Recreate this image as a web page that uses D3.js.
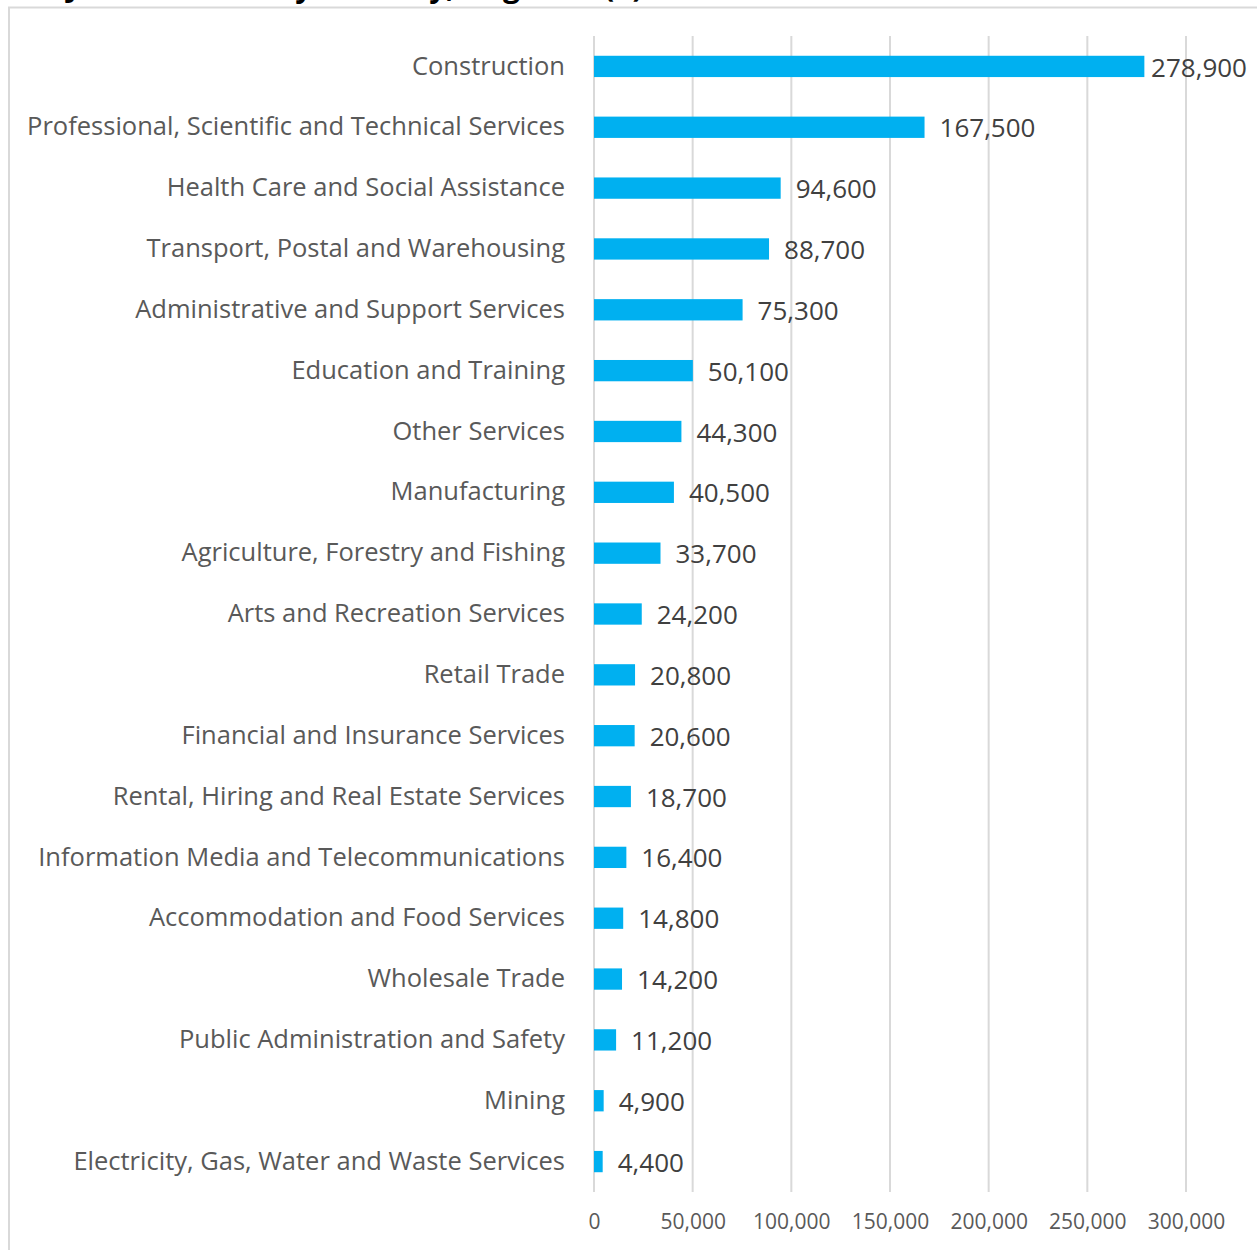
<!DOCTYPE html>
<html>
<head>
<meta charset="utf-8">
<script src="https://cdn.jsdelivr.net/npm/d3@7"></script>
<style>
  body { margin: 0; background: #fff; }
  svg { display: block; }
</style>
</head>
<body>
<svg id="chart" width="1257" height="1250"></svg>
<script>
const industries = [
  'Construction',
  'Professional, Scientific and Technical Services',
  'Health Care and Social Assistance',
  'Transport, Postal and Warehousing',
  'Administrative and Support Services',
  'Education and Training',
  'Other Services',
  'Manufacturing',
  'Agriculture, Forestry and Fishing',
  'Arts and Recreation Services',
  'Retail Trade',
  'Financial and Insurance Services',
  'Rental, Hiring and Real Estate Services',
  'Information Media and Telecommunications',
  'Accommodation and Food Services',
  'Wholesale Trade',
  'Public Administration and Safety',
  'Mining',
  'Electricity, Gas, Water and Waste Services'
];
const vacancies = [278900, 167500, 94600, 88700, 75300, 50100, 44300, 40500, 33700,
  24200, 20800, 20600, 18700, 16400, 14800, 14200, 11200, 4900, 4400];
const xTicks = [0, 50000, 100000, 150000, 200000, 250000, 300000];

const data = industries.map((name, i) => ({ name, value: vacancies[i] }));

const svg = d3.select('#chart');
const font = 'Open Sans, sans-serif';
const fmt = d3.format(',');

// chart frame, top edge + left edge (the rest is cut off)
svg.append('path')
  .attr('d', 'M9,1250 V7.5 H1257')
  .attr('fill', 'none')
  .attr('stroke', '#d9d9d9')
  .attr('stroke-width', 2);

// title, mostly cut off above the image
svg.append('text')
  .attr('x', 355)
  .attr('y', -3)
  .attr('text-anchor', 'middle')
  .attr('font-family', font)
  .attr('font-weight', 'bold')
  .attr('font-size', 30)
  .attr('fill', '#000')
  .text('Job vacancies by industry, Aug 2024 (a)');

const plotTop = 36, plotBottom = 1192;
const x = d3.scaleLinear().domain([0, 300000]).range([594, 1186]);
const y = d3.scaleBand()
  .domain(industries)
  .range([plotTop, plotBottom])
  .paddingInner(0.65)
  .paddingOuter(0.325);

// gridlines
svg.append('g')
  .selectAll('line')
  .data(xTicks)
  .join('line')
  .attr('x1', d => x(d))
  .attr('x2', d => x(d))
  .attr('y1', plotTop)
  .attr('y2', plotBottom)
  .attr('stroke', '#d9d9d9')
  .attr('stroke-width', 2);

// x axis labels
const xAxis = d3.axisBottom(x).tickValues(xTicks).tickFormat(fmt).tickSize(0).tickPadding(0);
const gx = svg.append('g')
  .attr('transform', `translate(0, ${plotBottom + 22})`)
  .call(xAxis);
gx.select('.domain').remove();
gx.selectAll('text')
  .attr('font-family', font)
  .attr('font-size', 21)
  .attr('fill', '#595959');

// category labels
const yAxis = d3.axisLeft(y).tickSize(0).tickPadding(0);
const gy = svg.append('g')
  .attr('transform', 'translate(565, 0)')
  .call(yAxis);
gy.select('.domain').remove();
gy.selectAll('text')
  .attr('font-family', font)
  .attr('font-size', 25.5)
  .attr('fill', '#595959');

// bars
svg.append('g')
  .selectAll('rect')
  .data(data)
  .join('rect')
  .attr('x', x(0))
  .attr('y', d => y(d.name))
  .attr('width', d => x(d.value) - x(0))
  .attr('height', y.bandwidth())
  .attr('fill', '#00b0f0');

// value labels
svg.append('g')
  .selectAll('text')
  .data(data)
  .join('text')
  .attr('x', d => x(d.value) + 15)
  .attr('y', d => y(d.name) + y.bandwidth() / 2 + 1)
  .attr('dy', '0.35em')
  .attr('font-family', font)
  .attr('font-size', 26)
  .attr('fill', '#404040')
  .text(d => fmt(d.value))
  .each(function () {
    const w = this.getComputedTextLength();
    const cur = +this.getAttribute('x');
    if (cur + w > 1247) this.setAttribute('x', 1247 - w);
  });
</script>
</body>
</html>
